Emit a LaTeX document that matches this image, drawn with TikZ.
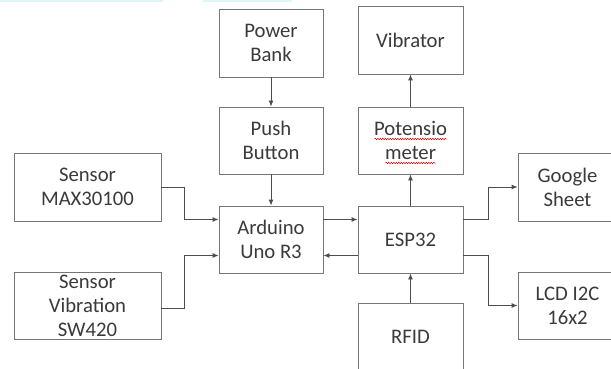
\documentclass[tikz,border=0pt]{standalone}
\usepackage{fontspec}
\setmainfont{Carlito}
\usetikzlibrary{arrows.meta,decorations.pathmorphing}
\definecolor{boxgray}{HTML}{767676}
\definecolor{linegray}{HTML}{4D4D4D}
\definecolor{textgray}{HTML}{3A3A3A}
\definecolor{bandcyan}{HTML}{E2F5F5}
\begin{document}
\begin{tikzpicture}[x=1pt,y=-1pt,
  block/.style={draw=boxgray,line width=0.9pt,minimum width=104pt,minimum height=67pt,inner sep=0pt,align=center,text=textgray,font=\fontsize{20.7}{24}\selectfont},
  link/.style={draw=linegray,line width=0.9pt,-{Latex[length=6pt,width=5pt]}},
  typo/.style={red!85!black,line width=0.5pt,decorate,decoration={snake,amplitude=0.7pt,segment length=2.5pt}}]
\useasboundingbox (0,0) rectangle (611,369);
\clip (0,0) rectangle (611,369);
\fill[bandcyan] (0,0) rectangle (163,2.5);
\fill[bandcyan] (203,0) rectangle (292,2.5);

\node[block,minimum height=68pt] (power) at (271,43) {Power\\Bank};
\node[block] (push) at (271,140.5) {Push\\Button};
\node[block] (arduino) at (271,239.5) {Arduino\\Uno R3};

\node[block,minimum width=105pt,minimum height=68pt] (vibrator) at (410.5,40) {Vibrator};
\node[block,minimum width=105pt] (potensio) at (410.5,140.5) {Potensio\\meter};
\node[block,minimum width=105pt] (esp) at (410.5,239.5) {ESP32};
\node[block,minimum width=105pt,minimum height=68pt] (rfid) at (410.5,337) {RFID};

\node[block,minimum width=147pt,minimum height=68pt] (maxs) at (87.5,187) {Sensor\\MAX30100};
\node[block,minimum width=147pt] (sw420) at (87.5,305.5) {Sensor\\Vibration\\SW420};

\node[block,minimum width=99pt,minimum height=68pt] (google) at (567.5,187) {Google\\Sheet};
\node[block,minimum width=99pt] (lcd) at (567.5,305.5) {LCD I2C\\16x2};

\draw[typo] ([xshift=-36pt,yshift=1.5pt]potensio.center) -- ([xshift=36pt,yshift=1.5pt]potensio.center);
\draw[typo] ([xshift=-25pt,yshift=-22.5pt]potensio.center) -- ([xshift=25pt,yshift=-22.5pt]potensio.center);

\draw[link] (power) -- (push);
\draw[link] (push) -- (arduino);
\draw[link] (potensio) -- (vibrator);
\draw[link] (esp) -- (potensio);
\draw[link] (rfid) -- (esp);

\draw[link] (maxs.east) -- ++(23,0) |- ([yshift=20pt]arduino.west);
\draw[link] ([yshift=-3pt]sw420.east) -- ++(23,0) |- ([yshift=-16pt]arduino.west);
\draw[link] ([yshift=20pt]arduino.east) -- ([yshift=20pt]esp.west);
\draw[link] ([yshift=-16pt]esp.west) -- ([yshift=-16pt]arduino.east);
\draw[link] ([yshift=20pt]esp.east) -- ++(25,0) |- (google.west);
\draw[link] ([yshift=-16pt]esp.east) -- ++(25,0) |- (lcd.west);
\end{tikzpicture}
\end{document}
